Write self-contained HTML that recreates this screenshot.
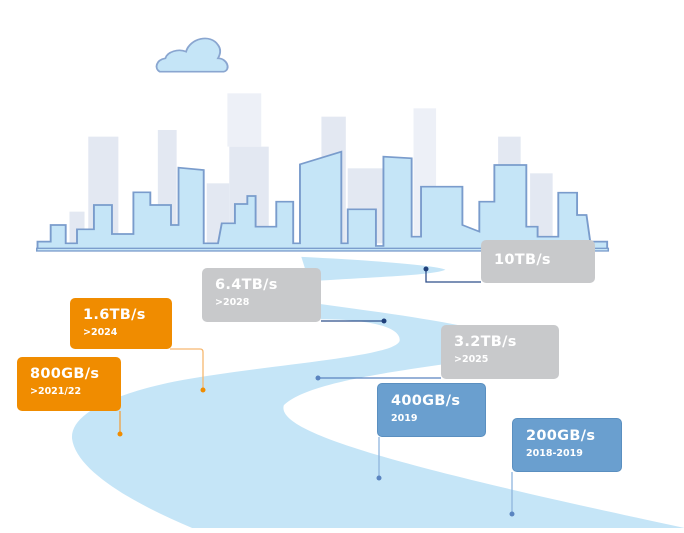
<!DOCTYPE html>
<html><head><meta charset="utf-8"><style>
html,body{margin:0;padding:0;background:#fff;}
body{width:684px;height:533px;position:relative;overflow:hidden;font-family:"DejaVu Sans","Liberation Sans",sans-serif;}
.b{position:absolute;border-radius:5px;color:#fff;box-sizing:border-box;padding-left:13px;}
.t{font-weight:bold;font-size:14.5px;margin-top:9px;letter-spacing:0.3px;}
.s{font-weight:bold;font-size:9.5px;margin-top:4px;font-family:"DejaVu Sans","Liberation Sans",sans-serif;}
.g{background:#c8c9cb;}.o{background:#f08c00;}.bl{background:#6a9fcf;border:1px solid #5a8fc0;}
</style></head><body>
<svg width="684" height="533" style="position:absolute;left:0;top:0">
<g transform="translate(0,230) scale(0.4367,0.3367)">
<path fill="#c5e5f7" d="M690,80 C850,90 1000,105 1020,118 C990,135 850,140 735,150 L735,220 C850,240 960,260 1060,285 L1010,400 C850,430 700,460 650,520 C630,600 900,700 1568,885 L440,885 C320,820 175,720 165,620 C160,550 250,490 400,450 C600,400 900,380 915,330 C920,290 850,265 735,265 Z"/>
</g>
<g transform="translate(30,30) scale(0.376,0.3333)">
<g fill="#e3e8f2">
<rect x="155" y="320" width="80" height="320"/>
<rect x="340" y="300" width="50" height="340"/>
<rect x="525" y="190" width="90" height="160" fill="#edf0f7"/>
<rect x="530" y="350" width="105" height="290"/>
<rect x="470" y="460" width="60" height="180"/>
<rect x="775" y="260" width="65" height="380"/>
<rect x="845" y="415" width="100" height="225"/>
<rect x="1020" y="235" width="60" height="400" fill="#edf0f7"/>
<rect x="1245" y="320" width="60" height="320"/>
<rect x="1330" y="430" width="60" height="210"/>
<rect x="105" y="545" width="40" height="95"/>
</g>
<path fill="#c5e5f7" stroke="#7a9ccc" stroke-width="5" d="M20,635 L55,635 L55,585 L95,585 L95,640 L125,640 L125,598 L170,598 L170,525 L218,525 L218,612 L275,612 L275,487 L320,487 L320,525 L375,525 L375,585 L395,585 L395,413 L462,420 L462,640 L500,640 L510,580 L545,580 L545,522 L578,522 L578,498 L600,498 L600,590 L655,590 L655,515 L700,515 L700,640 L718,640 L718,403 L828,365 L828,640 L845,640 L845,538 L920,538 L920,648 L940,648 L940,380 L1015,385 L1015,620 L1040,620 L1040,470 L1150,470 L1150,585 L1195,605 L1195,515 L1235,515 L1235,405 L1320,405 L1320,590 L1350,590 L1350,620 L1405,620 L1405,488 L1455,488 L1455,555 L1480,555 L1490,635 L1535,635 L1535,660 L20,660 Z"/>
<rect x="18" y="655" width="1520" height="8" fill="#c5e5f7" stroke="#7a9ccc" stroke-width="4"/>
<path fill="#c5e5f7" stroke="#8aa6d0" stroke-width="5" d="M345,125 C330,115 335,90 360,85 C365,65 395,55 415,65 C425,25 480,10 500,45 C510,60 505,75 500,85 C525,85 535,120 515,125 Z"/>
</g>
<g fill="none" stroke-width="1.3">
<path stroke="#2f4f8a" d="M426,269 V282 H481"/>
<path stroke="#2f4f8a" d="M321,321 H384"/>
<path stroke="#f6b870" d="M170,349 H200 Q203,349 203,352 V391"/>
<path stroke="#f0a040" d="M120,411 V434"/>
<path stroke="#5a84c0" d="M318,378 H441"/>
<path stroke="#8fb5de" d="M379,437 V479"/>
<path stroke="#8fb5de" d="M512,472 V515"/>
</g>
<g>
<circle cx="426" cy="269" r="2.5" fill="#1f3f7a"/>
<circle cx="384" cy="321" r="2.5" fill="#1f3f7a"/>
<circle cx="203" cy="390" r="2.5" fill="#f08c00"/>
<circle cx="120" cy="434" r="2.5" fill="#f08c00"/>
<circle cx="318" cy="378" r="2.5" fill="#5a84c0"/>
<circle cx="379" cy="478" r="2.5" fill="#5a84c0"/>
<circle cx="512" cy="514" r="2.5" fill="#5a84c0"/>
</g>
</svg>
<div class="b g" style="left:481px;top:240px;width:114px;height:43px;"><div class="t" style="margin-top:12px">10TB/s</div></div>
<div class="b g" style="left:202px;top:268px;width:119px;height:54px;"><div class="t">6.4TB/s</div><div class="s">&gt;2028</div></div>
<div class="b o" style="left:70px;top:298px;width:102px;height:51px;"><div class="t">1.6TB/s</div><div class="s">&gt;2024</div></div>
<div class="b o" style="left:17px;top:357px;width:104px;height:54px;"><div class="t">800GB/s</div><div class="s">&gt;2021/22</div></div>
<div class="b g" style="left:441px;top:325px;width:118px;height:54px;"><div class="t">3.2TB/s</div><div class="s">&gt;2025</div></div>
<div class="b bl" style="left:377px;top:383px;width:109px;height:54px;"><div class="t">400GB/s</div><div class="s">2019</div></div>
<div class="b bl" style="left:512px;top:418px;width:110px;height:54px;"><div class="t">200GB/s</div><div class="s">2018-2019</div></div>
</body></html>
